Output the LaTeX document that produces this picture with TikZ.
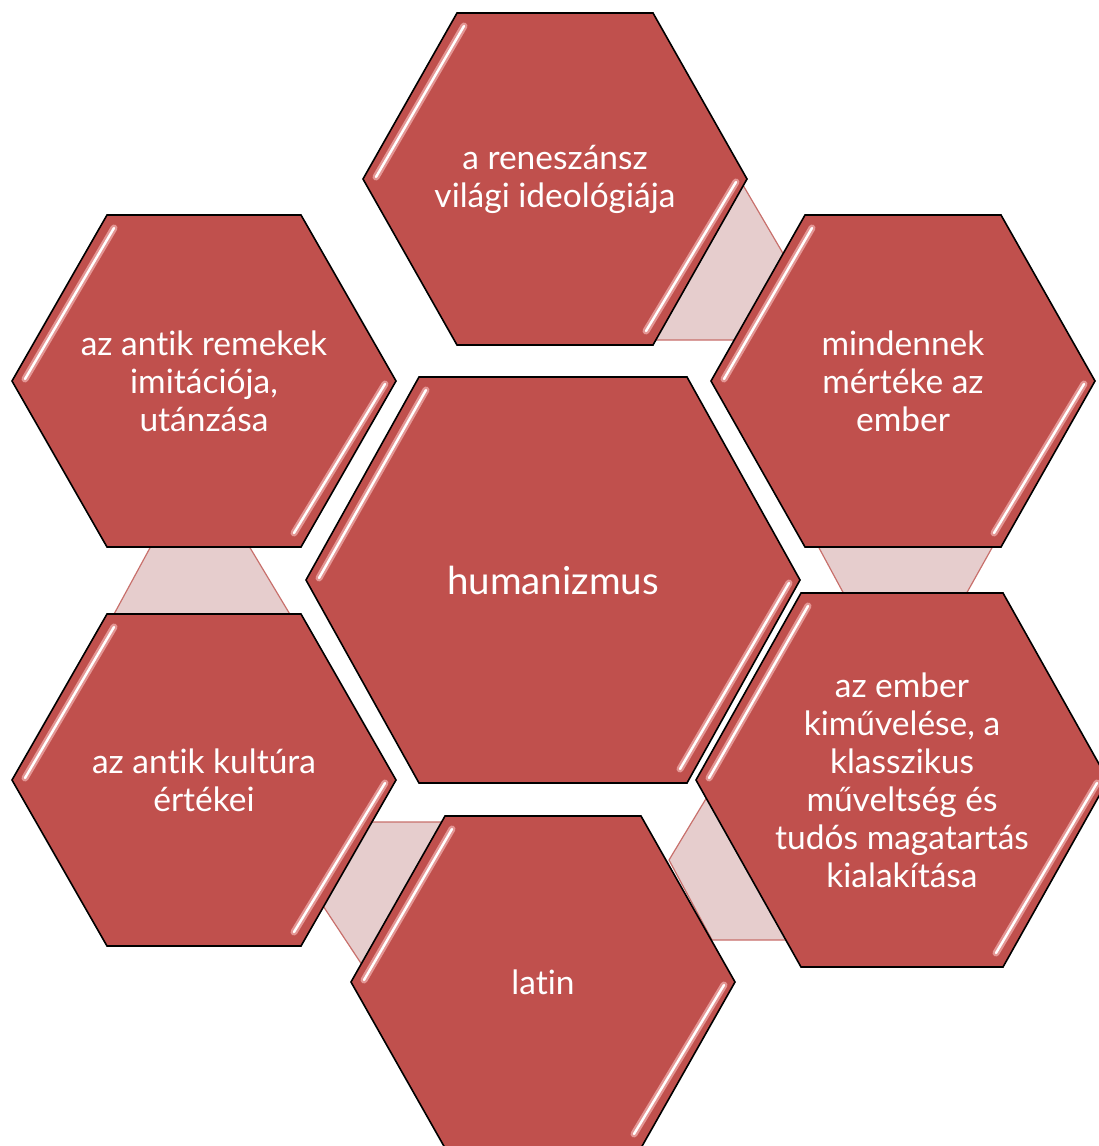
\documentclass[tikz,border=0pt]{standalone}
\usepackage{fontspec}
\setmainfont{Lato}[Ligatures=NoCommon]
\usetikzlibrary{calc}

\definecolor{hexred}{RGB}{192,80,77}
\definecolor{linkpink}{RGB}{230,205,205}
\definecolor{linkedge}{RGB}{200,112,108}
\definecolor{gleam}{RGB}{228,150,148}

\tikzset{
  hexcell/.style={fill=hexred,draw=black,line width=1.6pt,line join=miter},
  gleamwide/.style={draw=gleam,line width=7pt,line cap=round},
  gleamthin/.style={draw=white,line width=2.4pt,line cap=round},
  hexlink/.style={fill=linkpink,draw=linkedge,line width=1.2pt,line join=miter},
  hextext/.style={text=white,align=center,inner sep=0pt,font=\fontsize{33.5}{38}\selectfont}
}

% #1 name, #2 centre, #3 half width, #4 half height, #5 half top side, #6 text
\newcommand{\hexa}[6]{%
  \coordinate (#1-c) at (#2);
  \filldraw[hexcell] ($(#1-c)+(-#5,-#4)$) -- ($(#1-c)+(#5,-#4)$) -- ($(#1-c)+(#3,0)$)
    -- ($(#1-c)+(#5,#4)$) -- ($(#1-c)+(-#5,#4)$) -- ($(#1-c)+(-#3,0)$) -- cycle;
  \draw[gleamwide] ($(#1-c)+({-#5+7},{-#4+13})$) -- ($(#1-c)+({-#3+13},-2)$);
  \draw[gleamthin] ($(#1-c)+({-#5+7},{-#4+13})$) -- ($(#1-c)+({-#3+13},-2)$);
  \draw[gleamwide] ($(#1-c)+({#3-11},3)$) -- ($(#1-c)+({#5-7},{#4-14})$);
  \draw[gleamthin] ($(#1-c)+({#3-11},3)$) -- ($(#1-c)+({#5-7},{#4-14})$);
  \node[hextext] (#1) at (#1-c) {#6};
}

\begin{document}
\begin{tikzpicture}[x=1pt,y=-1pt]
\useasboundingbox (0,0) rectangle (1099,1146);

% links between the outer cells
\filldraw[hexlink] (740,180) -- (815,308) -- (815,340) -- (655,340) -- cycle;
\filldraw[hexlink] (818,546) -- (993,546) -- (965,596) -- (845,596) -- cycle;
\filldraw[hexlink] (669,860) -- (739,744) -- (820,940) -- (712,940) -- cycle;
\filldraw[hexlink] (445,822) -- (345,822) -- (294,862) -- (380,992) -- cycle;
\filldraw[hexlink] (151,546) -- (249,546) -- (291,616) -- (113,616) -- cycle;

% cells
\hexa{top}{555,179}{192}{166}{98}{a reneszánsz\\világi ideológiája}
\hexa{ul}{204,381}{192}{166}{97}{az antik remekek\\imitációja,\\utánzása}
\hexa{ur}{903,381}{192}{166}{98}{mindennek\\mértéke az\\ember}
\hexa{mid}{553,580}{247}{203}{134}{\fontsize{38.5}{44}\selectfont humanizmus}
\hexa{ll}{204,780}{192}{166}{97}{az antik kultúra\\értékei}
\hexa{lr}{902,780}{206}{187}{101}{az ember\\kiművelése, a\\klasszikus\\műveltség és\\tudós magatartás\\kialakítása}
\hexa{bot}{543,982}{192}{166}{98}{latin}
\end{tikzpicture}
\end{document}
